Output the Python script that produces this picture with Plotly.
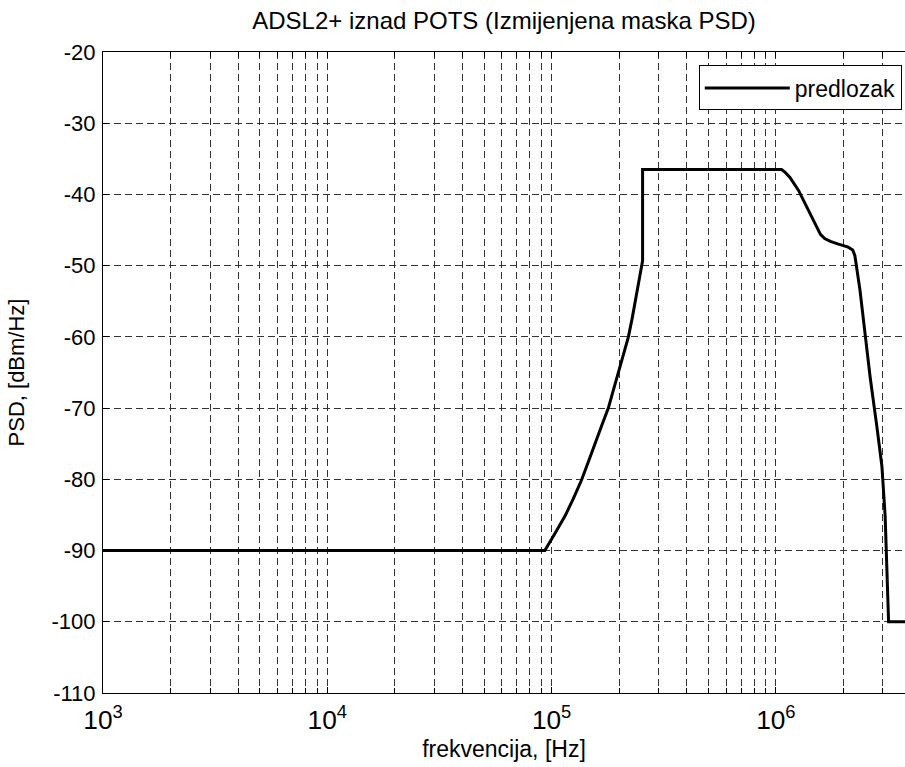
import plotly.graph_objects as go

# PSD mask data (frequency in Hz, PSD in dBm/Hz)
freq_hz = [1e3, 93.3e3, 103e3, 114.6e3, 125e3, 136e3, 146e3, 156e3, 167e3, 179e3, 189e3,
           199e3, 210e3, 220e3, 229e3, 237e3, 245e3, 252e3, 254.5e3,
           254.5e3, 1.06e6, 1.10e6, 1.155e6, 1.26e6, 1.37e6, 1.49e6, 1.58e6, 1.65e6, 1.75e6,
           1.87e6, 2.10e6, 2.20e6, 2.25e6,
           2.37e6, 2.50e6, 2.63e6, 2.82e6, 2.97e6, 3.07e6, 3.12e6, 3.18e6, 3.8e6]
psd_dbm = [-90, -90, -87.7, -85.2, -82.7, -80.1, -77.5, -74.9, -72.5, -70.0, -67.3,
           -64.7, -62.3, -60.0, -57.3, -54.8, -52.4, -50.2, -49.3,
           -36.5, -36.5, -36.9, -37.6, -39.4, -41.75, -44.1, -45.6, -46.2, -46.6,
           -46.9, -47.4, -47.8, -48.6,
           -53.4, -59.5, -65.6, -72.6, -78.2, -85.2, -93.6, -100, -100]

y_tickvals = [-20, -30, -40, -50, -60, -70, -80, -90, -100, -110]
y_ticktext = ["-20", "-30", "-40", "-50", "-60", "-70", "-80", "-90", "-100", "-110"]

title_text = "ADSL2+ iznad POTS (Izmijenjena maska PSD)"
x_title = "frekvencija, [Hz]"
y_title = "PSD, [dBm/Hz]"
series_name = "predlozak"

FONT = "Liberation Sans, Arial, Helvetica, sans-serif"
GRID = "#333333"

fig = go.Figure()
fig.add_trace(go.Scatter(x=freq_hz, y=psd_dbm, mode="lines", name=series_name,
                         line=dict(color="black", width=3)))

fig.update_layout(
    width=905, height=767,
    margin=dict(l=103, r=0, t=52, b=74),
    paper_bgcolor="white", plot_bgcolor="white",
    font=dict(family=FONT, size=20, color="black"),
    title=dict(text=title_text, x=(103 + 905) / 2 / 905, xanchor="center",
               y=1 - 21 / 767, yanchor="middle", font=dict(size=24)),
    showlegend=True,
    legend=dict(x=0.996, y=0.979, xanchor="right", yanchor="top",
                bordercolor="black", borderwidth=1, bgcolor="white",
                font=dict(size=23), itemwidth=85),
)

fig.update_xaxes(
    type="log", range=[3, 6.5756], dtick=1, exponentformat="power",
    showline=True, linecolor="black", linewidth=1, mirror="ticks",
    ticks="inside", ticklen=6, tickcolor="black",
    showgrid=True, gridcolor=GRID, gridwidth=1, griddash="7px,4px",
    minor=dict(ticks="inside", ticklen=5, tickcolor="black", showgrid=True,
               gridcolor=GRID, gridwidth=1, griddash="7px,4px"),
    zeroline=False, ticklabelstandoff=5,
    title=dict(text=x_title, font=dict(size=23), standoff=6),
    tickfont=dict(size=21),
)
fig.update_yaxes(
    range=[-110, -20], tickvals=y_tickvals, ticktext=y_ticktext,
    showline=True, linecolor="black", linewidth=1, mirror=False,
    ticks="inside", ticklen=6, tickcolor="black",
    showgrid=True, gridcolor=GRID, gridwidth=1, griddash="7px,4px",
    zeroline=False, ticklabelstandoff=2,
    title=dict(text=y_title, font=dict(size=22), standoff=20),
    tickfont=dict(size=22),
)

fig.write_html("out.html")
